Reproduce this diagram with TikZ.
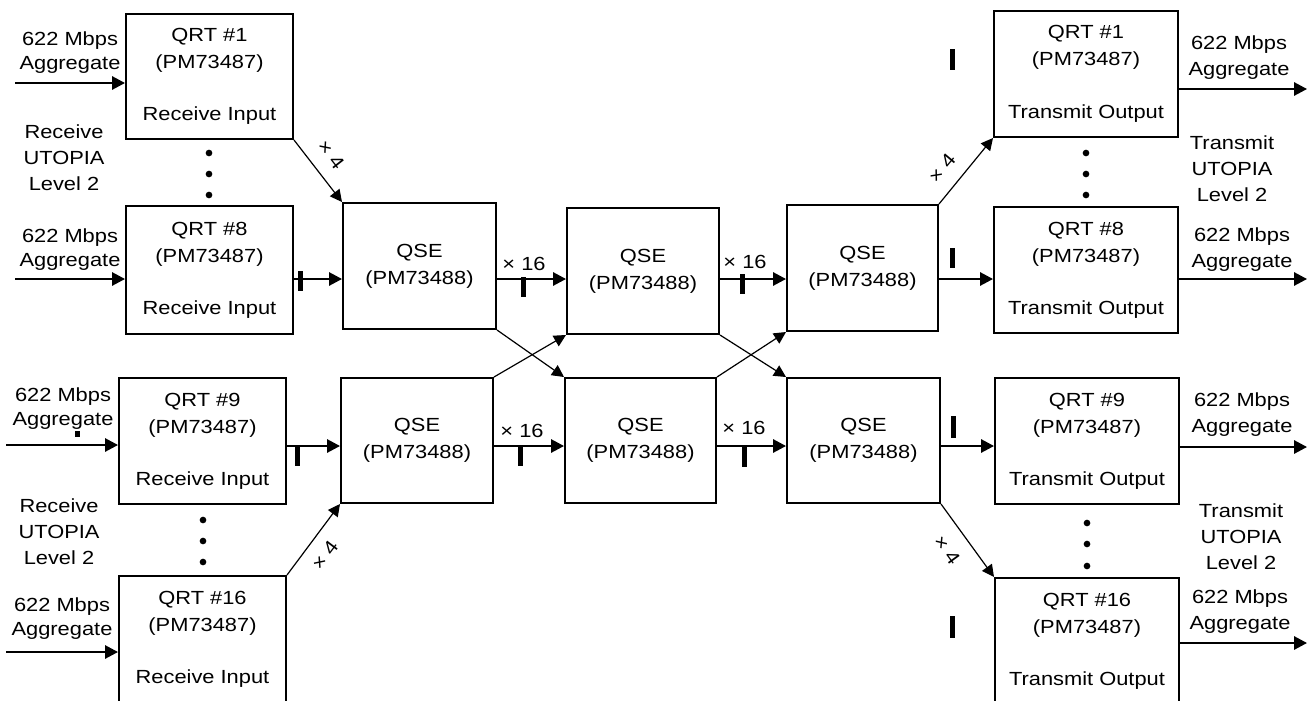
\documentclass[tikz,border=0pt]{standalone}
\usepackage{fontspec}
\setmainfont{Liberation Sans}[FakeStretch=1.15]
\usetikzlibrary{arrows.meta,calc}
\tikzset{
  box/.style={draw, line width=1.5pt, inner sep=0pt, align=center,
    font=\fontsize{14.25pt}{20.25pt}\selectfont},
  lbl/.style={inner sep=0pt, align=center, font=\fontsize{14.25pt}{19.5pt}\selectfont},
  lblL/.style={inner sep=0pt, align=center, font=\fontsize{14.25pt}{18pt}\selectfont},
  harrow/.style={line width=1.5pt, -{Triangle[length=9.75pt,width=10pt]}},
  darrow/.style={line width=0.9pt, -{Triangle[length=9pt,width=9pt]}},
  busbar/.style={line width=3.75pt},
  dotnode/.style={circle, fill, inner sep=0pt, minimum size=5pt},
}
\newcommand\mybox[6]{\node[box,minimum width={(#3-#1)*0.75pt},minimum height={(#4-#2)*0.75pt}] (#5) at ({(#1+#3)/2},{(#2+#4)/2}) {#6};}
\begin{document}
\begin{tikzpicture}[x=0.75pt,y=-0.75pt]
\clip (0,0) rectangle (1309,700);
% receive QRTs
\mybox{126}{14}{293}{139}{q1l}{QRT \#1\\(PM73487)\\[19pt]Receive Input}
\mybox{126}{206}{293}{334}{q8l}{QRT \#8\\(PM73487)\\[19pt]Receive Input}
\mybox{119}{378}{286}{504}{q9l}{QRT \#9\\(PM73487)\\[19pt]Receive Input}
\mybox{119}{576}{286}{703}{q16l}{QRT \#16\\(PM73487)\\[19pt]Receive Input}
% QSEs
\mybox{343}{203}{496}{329}{qa}{QSE\\(PM73488)}
\mybox{567}{208}{719}{334}{qb}{QSE\\(PM73488)}
\mybox{787}{205}{938}{331}{qc}{QSE\\(PM73488)}
\mybox{341}{378}{493}{503}{qd}{QSE\\(PM73488)}
\mybox{565}{378}{716}{503}{qe}{QSE\\(PM73488)}
\mybox{787}{378}{940}{503}{qf}{QSE\\(PM73488)}
% transmit QRTs
\mybox{994}{11}{1178}{137}{q1r}{QRT \#1\\(PM73487)\\[19pt]Transmit Output}
\mybox{994}{207}{1178}{333}{q8r}{QRT \#8\\(PM73487)\\[19pt]Transmit Output}
\mybox{995}{378}{1179}{504}{q9r}{QRT \#9\\(PM73487)\\[19pt]Transmit Output}
\mybox{995}{578}{1179}{705}{q16r}{QRT \#16\\(PM73487)\\[19pt]Transmit Output}
% side labels
\node[lblL] (la1) at (70,53) {622 Mbps\\Aggregate};
\node[lblL] (la8) at (70,250) {622 Mbps\\Aggregate};
\node[lblL] (la9) at (63,409) {622 Mbps\\Aggregate};
\node[lblL] (la16) at (62,619) {622 Mbps\\Aggregate};
\node[lbl] (lu1) at (64,158) {Receive\\UTOPIA\\Level 2};
\node[lbl] (lu2) at (59,532) {Receive\\UTOPIA\\Level 2};
\node[lbl] (ra1) at (1239,58) {622 Mbps\\Aggregate};
\node[lbl] (ra8) at (1242,250) {622 Mbps\\Aggregate};
\node[lbl] (ra9) at (1242,415) {622 Mbps\\Aggregate};
\node[lbl] (ra16) at (1240,612) {622 Mbps\\Aggregate};
\node[lbl] (ru1) at (1232,169) {Transmit\\UTOPIA\\Level 2};
\node[lbl] (ru2) at (1241,537) {Transmit\\UTOPIA\\Level 2};
% dots
\foreach \y [count=\i] in {153,174,195} \node[dotnode] (dl1\i) at (209,\y) {};
\foreach \y [count=\i] in {520,541,562} \node[dotnode] (dl2\i) at (203,\y) {};
\foreach \y [count=\i] in {153,174,195} \node[dotnode] (dr1\i) at (1086,\y) {};
\foreach \y [count=\i] in {523,544,566} \node[dotnode] (dr2\i) at (1087,\y) {};
% input / output arrows
\coordinate (i1) at (15,83);
\coordinate (i8) at (15,279);
\coordinate (i9) at (6,445);
\coordinate (i16) at (6,652);
\coordinate (o1) at (1307,89);
\coordinate (o8) at (1307,279);
\coordinate (o9) at (1307,447);
\coordinate (o16) at (1307,643);
\draw[harrow] (i1) -- (i1 -| q1l.west);
\draw[harrow] (i8) -- (i8 -| q8l.west);
\draw[harrow] (i9) -- (i9 -| q9l.west);
\draw[harrow] (i16) -- (i16 -| q16l.west);
\draw[harrow] (q1r.east |- o1) -- (o1);
\draw[harrow] (q8r.east |- o8) -- (o8);
\draw[harrow] (q9r.east |- o9) -- (o9);
\draw[harrow] (q16r.east |- o16) -- (o16);
% horizontal links
\coordinate (rowA) at (0,279);
\coordinate (rowB) at (0,446);
\draw[harrow] (q8l.east |- rowA) -- (qa.west |- rowA);
\draw[harrow] (qa.east |- rowA) -- (qb.west |- rowA);
\draw[harrow] (qb.east |- rowA) -- (qc.west |- rowA);
\draw[harrow] (qc.east |- rowA) -- (q8r.west |- rowA);
\draw[harrow] (q9l.east |- rowB) -- (qd.west |- rowB);
\draw[harrow] (qd.east |- rowB) -- (qe.west |- rowB);
\draw[harrow] (qe.east |- rowB) -- (qf.west |- rowB);
\draw[harrow] (qf.east |- rowB) -- (q9r.west |- rowB);
% diagonal links
\draw[darrow] (q1l.south east) -- (qa.north west);
\draw[darrow] (q16l.north east) -- (qd.south west);
\draw[darrow] (qa.south east) -- (qe.north west);
\draw[darrow] (qd.north east) -- (qb.south west);
\draw[darrow] (qb.south east) -- (qf.north west);
\draw[darrow] (qe.north east) -- (qc.south west);
\draw[darrow] (qc.north east) -- (q1r.south west);
\draw[darrow] (qf.south east) -- (q16r.north west);
% multiplicity labels
\node[lbl] (m1) at (524,264) {× 16};
\node[lbl] (m2) at (745,262) {× 16};
\node[lbl] (m3) at (522,431) {× 16};
\node[lbl] (m4) at (744,428) {× 16};
\node[lbl,rotate=-52] (x1) at (331,155) {× 4};
\node[lbl,rotate=53] (x2) at (325,555) {× 4};
\node[lbl,rotate=50] (x3) at (942,168) {× 4};
\node[lbl,rotate=-54] (x4) at (947,550) {× 4};
% bus bars
\draw[busbar] (300,271) -- (300,291);
\draw[busbar] (523,277) -- (523,297);
\draw[busbar] (742,274) -- (742,294);
\draw[busbar] (952,248) -- (952,268);
\draw[busbar] (953,416) -- (953,438);
\draw[busbar] (744,447) -- (744,467);
\draw[busbar] (520.5,446) -- (520.5,466);
\draw[busbar] (297.5,445) -- (297.5,466);
\draw[busbar] (952,49) -- (952,70);
\draw[busbar] (952,616) -- (952,638);
\fill (74.5,431) rectangle (79.5,437);
\end{tikzpicture}
\end{document}
